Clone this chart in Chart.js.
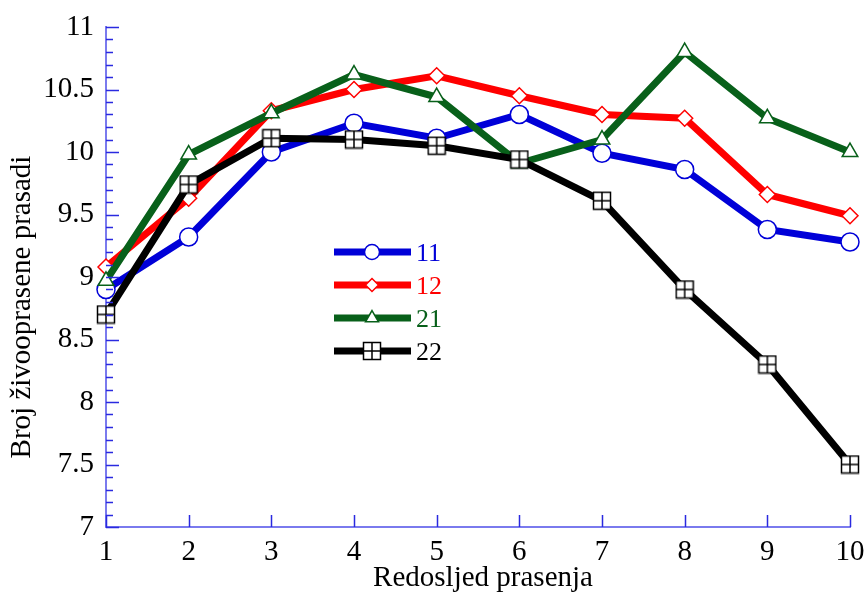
<!DOCTYPE html>
<html><head><meta charset="utf-8">
<script src="https://cdn.jsdelivr.net/npm/chart.js@4"></script>
<style>html,body{margin:0;padding:0;background:#fff}#w{width:866px;height:592px}</style>
</head><body><div id="w"><canvas id="c"></canvas></div>
<script>
const xValues = [1,2,3,4,5,6,7,8,9,10];
const seriesNames = ['11','12','21','22'];
const s11 = [8.90,9.32,10.00,10.23,10.11,10.30,9.99,9.86,9.38,9.28];
const s12 = [9.08,9.63,10.33,10.50,10.61,10.45,10.30,10.27,9.66,9.49];
const s21 = [8.97,9.98,10.31,10.62,10.44,9.91,10.10,10.80,10.27,10.00];
const s22 = [8.70,9.74,10.11,10.10,10.05,9.94,9.61,8.90,8.30,7.50];
const xTitle = 'Redosljed prasenja';
const yTitle = 'Broj živooprasene prasadi';

const FONT = '"Liberation Serif", "Times New Roman", serif';
const colors = ['#0000d8','#ff0000','#08601a','#000000'];

function gridSquare(){
  const c = document.createElement('canvas'); c.width = 20; c.height = 20;
  const g = c.getContext('2d');
  g.fillStyle = '#fff'; g.fillRect(1,1,18,18);
  g.strokeStyle = '#000'; g.lineWidth = 1.5;
  g.strokeRect(1.5,1.5,17,17);
  g.beginPath(); g.moveTo(10,1.5); g.lineTo(10,18.5); g.moveTo(1.5,10); g.lineTo(18.5,10); g.stroke();
  return c;
}
const sq = gridSquare();
const styles = [
  {pointStyle:'circle', radius:9},
  {pointStyle:'rectRot', radius:8},
  {pointStyle:'triangle', radius:9},
  {pointStyle:sq, radius:10}
];
const dataSets = [s11,s12,s21,s22];
const datasets = dataSets.map((d,i)=>({
  label: seriesNames[i],
  data: xValues.map((x,j)=>({x:x,y:d[j]})),
  borderColor: colors[i],
  backgroundColor: colors[i],
  borderWidth: 7,
  pointStyle: styles[i].pointStyle,
  pointRadius: styles[i].radius,
  pointBackgroundColor: '#ffffff',
  pointBorderColor: colors[i],
  pointBorderWidth: 1.5,
  tension: 0,
  clip: false,
  order: 4 - i
}));

const tickPlugin = {
  id: 'ticks',
  afterDraw(chart){
    const ctx = chart.ctx, xs = chart.scales.x, ys = chart.scales.y;
    const ca = chart.chartArea;
    ctx.save();
    ctx.strokeStyle = '#2a2ae0'; ctx.lineWidth = 1.5;
    ctx.beginPath();
    for (let v = 70; v <= 110; v++){
      const y = Math.round(ys.getPixelForValue(v/10))+0.5;
      const len = (v % 5 === 0) ? 13 : 7;
      ctx.moveTo(ca.left, y); ctx.lineTo(ca.left+len, y);
    }
    for (const x of xValues){
      const px = Math.round(xs.getPixelForValue(x))+0.5;
      ctx.moveTo(px, ca.bottom); ctx.lineTo(px, ca.bottom-12);
    }
    ctx.stroke();
    // axis titles
    ctx.fillStyle = '#000';
    ctx.font = '29px ' + FONT;
    ctx.textAlign = 'center'; ctx.textBaseline = 'middle';
    ctx.fillText(xTitle, 483, 578);
    ctx.save();
    ctx.translate(22, 307); ctx.rotate(-Math.PI/2);
    ctx.fillText(yTitle, 0, 0);
    ctx.restore();
    // legend
    const lx0 = 334, lx1 = 411, ly = [252,285,318,351];
    dataSets.forEach((d,i)=>{
      ctx.strokeStyle = colors[i]; ctx.lineWidth = 7;
      ctx.beginPath(); ctx.moveTo(lx0, ly[i]); ctx.lineTo(lx1, ly[i]); ctx.stroke();
      const st = styles[i];
      ctx.fillStyle = '#fff'; ctx.strokeStyle = colors[i]; ctx.lineWidth = 1.5;
      Chart.helpers.drawPoint(ctx, {pointStyle: st.pointStyle, radius: st.radius-1.5, borderWidth:1.5}, 372, ly[i]);
      ctx.fillStyle = colors[i];
      ctx.font = '26px ' + FONT;
      ctx.textAlign = 'left'; ctx.textBaseline = 'middle';
      ctx.fillText(seriesNames[i], 416, ly[i]+2);
    });
    ctx.restore();
  }
};

new Chart(document.getElementById('c'), {
  type: 'line',
  data: { datasets },
  options: {
    responsive: true, maintainAspectRatio: false, animation: false,
    layout: { padding: { left: 0, right: 16, top: 27, bottom: 0 } },
    plugins: { legend: { display: false }, tooltip: { enabled: false } },
    scales: {
      x: {
        type: 'linear', min: 1, max: 10,
        afterFit(s){ s.height = 65; s.paddingRight = 0; s.paddingLeft = 0; },
        ticks: { stepSize: 1, font: { family: FONT, size: 29 }, color: '#000', padding: 8, maxRotation: 0 },
        grid: { display: false, drawTicks: false },
        border: { display: true, color: '#7a7aee', width: 2 },
        title: { display: false }
      },
      y: {
        type: 'linear', min: 7, max: 11,
        afterFit(s){ s.width = 106; s.paddingTop = 0; s.paddingBottom = 0; },
        ticks: { stepSize: 0.5, font: { family: FONT, size: 29 }, color: '#000', padding: 12,
                 callback: v => String(+Number(v).toFixed(1)) },
        grid: { display: false, drawTicks: false },
        border: { display: true, color: '#7a7aee', width: 2 },
        title: { display: false }
      }
    }
  },
  plugins: [tickPlugin]
});
</script>
</body></html>
